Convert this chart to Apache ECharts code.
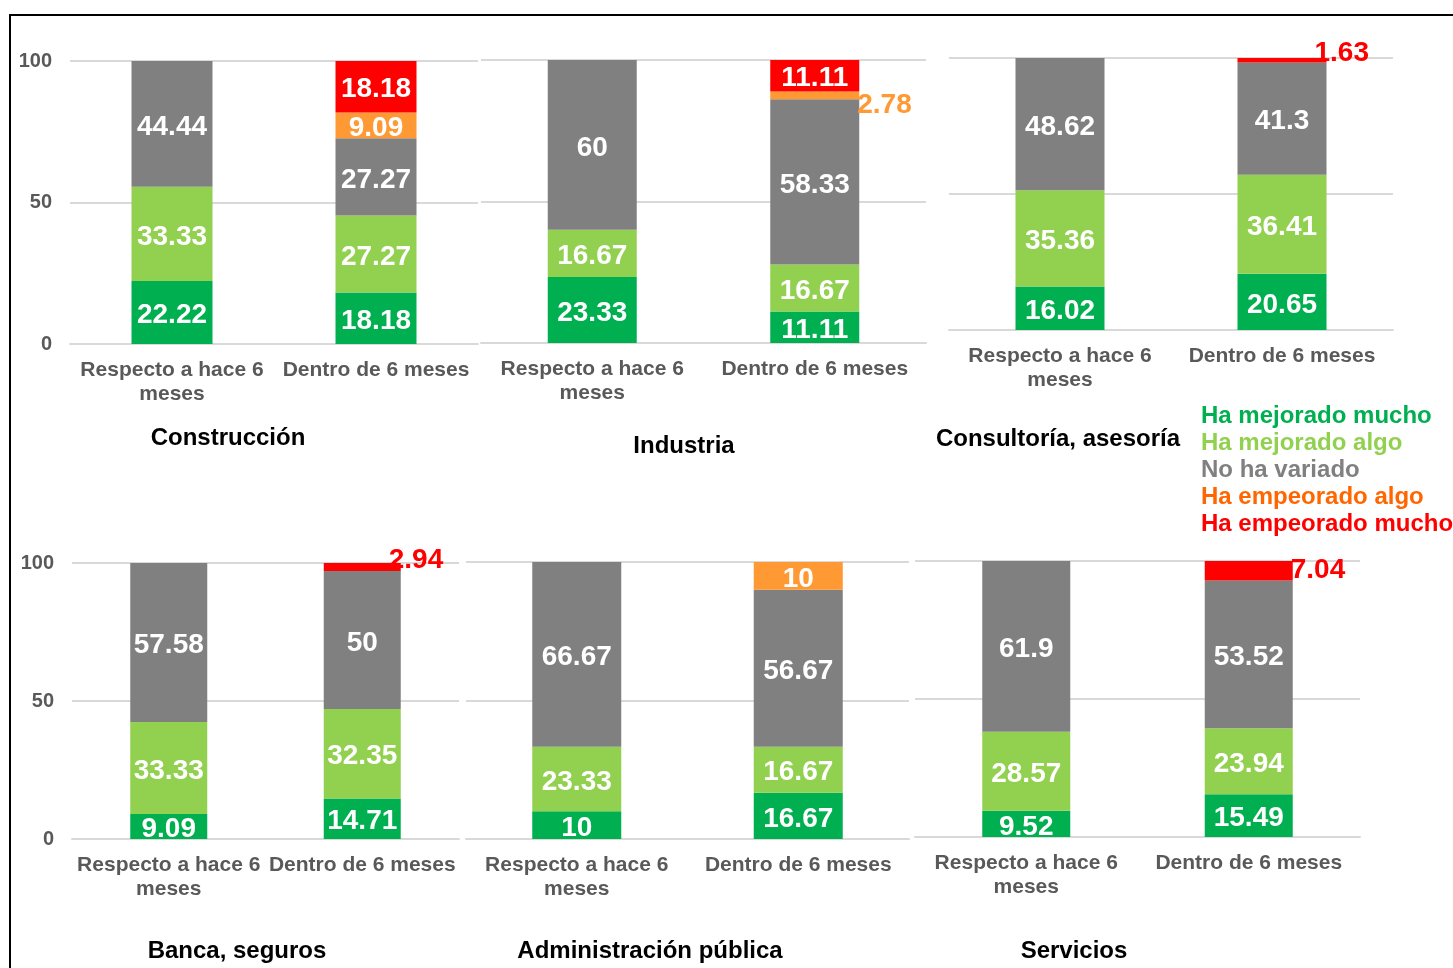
<!DOCTYPE html>
<html>
<head>
    <meta charset="utf-8">
    <title>Evolución por sector</title>
    <script src="https://cdn.jsdelivr.net/npm/echarts@6/dist/echarts.min.js"></script>
    <style>
        html, body { margin: 0; padding: 0; background: #fff; }
        #main { width: 1453px; height: 968px; }
    </style>
</head>
<body>
    <div id="main"></div>
    <script>
        // datos: [Respecto a hace 6 meses, Dentro de 6 meses] por sector
        var categories = ['Respecto a hace 6\nmeses', 'Dentro de 6 meses'];
        var sectors = ['Construcción', 'Industria', 'Consultoría, asesoría', 'Banca, seguros', 'Administración pública', 'Servicios'];
        var levels = ['Ha mejorado mucho', 'Ha mejorado algo', 'No ha variado', 'Ha empeorado algo', 'Ha empeorado mucho'];
        var yTicks = [0, 50, 100];

        var mejoradoMucho = [[22.22, 18.18], [23.33, 11.11], [16.02, 20.65], [9.09, 14.71], [10, 16.67], [9.52, 15.49]];
        var mejoradoAlgo = [[33.33, 27.27], [16.67, 16.67], [35.36, 36.41], [33.33, 32.35], [23.33, 16.67], [28.57, 23.94]];
        var noVariado = [[44.44, 27.27], [60, 58.33], [48.62, 41.3], [57.58, 50], [66.67, 56.67], [61.9, 53.52]];
        var empeoradoAlgo = [[null, 9.09], [null, 2.78], [null, null], [null, null], [null, 10], [null, null]];
        var empeoradoMucho = [[null, 18.18], [null, 11.11], [null, 1.63], [null, 2.94], [null, null], [null, 7.04]];
        var levelData = [mejoradoMucho, mejoradoAlgo, noVariado, empeoradoAlgo, empeoradoMucho];

        var barColors = ['#00B050', '#92D050', '#808080', '#FF9933', '#FF0000'];
        var legendColors = ['#00B050', '#92D050', '#808080', '#FF6600', '#FF0000'];

        // posición de cada panel (px)
        var panels = [
            { left: 70, top: 61, width: 408, height: 283, bar: 81, yLabels: true, tx: 228, ty: 438 },
            { left: 481, top: 60, width: 445, height: 283, bar: 89, yLabels: false, tx: 684, ty: 446 },
            { left: 949, top: 58, width: 444, height: 272, bar: 89, yLabels: false, tx: 1058, ty: 439 },
            { left: 72, top: 563, width: 387, height: 276, bar: 77, yLabels: true, tx: 237, ty: 951 },
            { left: 466, top: 562, width: 443, height: 277, bar: 89, yLabels: false, tx: 650, ty: 951 },
            { left: 915, top: 561, width: 445, height: 276, bar: 88, yLabels: false, tx: 1074, ty: 951 }
        ];

        var font = '"Liberation Sans", Arial, sans-serif';
        var chart = echarts.init(document.getElementById('main'));

        var grids = [], xAxes = [], yAxes = [], series = [], graphics = [];

        graphics.push({
            type: 'rect',
            shape: { x: 10, y: 15, width: 1500, height: 1000 },
            style: { fill: 'none', stroke: '#000', lineWidth: 2 },
            silent: true
        });

        panels.forEach(function (p, i) {
            grids.push({ left: p.left, top: p.top, width: p.width, height: p.height });
            xAxes.push({
                type: 'category',
                gridIndex: i,
                data: categories,
                axisTick: { show: false },
                axisLine: { lineStyle: { color: '#D9D9D9', width: 2 } },
                axisLabel: {
                    color: '#595959', fontWeight: 'bold', fontSize: 21, fontFamily: font,
                    lineHeight: 24, margin: 14, interval: 0
                }
            });
            yAxes.push({
                type: 'value',
                gridIndex: i,
                min: yTicks[0],
                max: yTicks[yTicks.length - 1],
                interval: 50,
                axisLine: { show: false },
                axisTick: { show: false },
                splitLine: { lineStyle: { color: '#D9D9D9', width: 2 } },
                axisLabel: {
                    show: p.yLabels, color: '#595959', fontWeight: 'bold', fontSize: 20,
                    fontFamily: font, margin: 18
                }
            });

            levels.forEach(function (name, k) {
                var vals = levelData[k][i];
                series.push({
                    name: name,
                    type: 'bar',
                    stack: 's' + i,
                    xAxisIndex: i,
                    yAxisIndex: i,
                    barWidth: p.bar,
                    itemStyle: { color: barColors[k] },
                    data: vals.map(function (v) {
                        if (v === null) return null;
                        var small = v < 8;
                        var label = {
                            show: true,
                            position: small ? 'right' : 'inside',
                            color: small ? barColors[k] : '#fff',
                            fontSize: 28,
                            fontWeight: 'bold',
                            fontFamily: font,
                            offset: [0, 3]
                        };
                        if (small) {
                            label.distance = -2;
                            label.offset = [0, 0];
                            if (k === 4 && v < 4) label.offset = [-10, -7];
                            if (k === 3) label.offset = [0, 10];
                        }
                        return { value: v, label: label };
                    })
                });
            });

            graphics.push({
                type: 'text',
                x: p.tx,
                y: p.ty,
                silent: true,
                style: {
                    text: sectors[i],
                    fill: '#000',
                    font: 'bold 24px ' + font,
                    align: 'center',
                    verticalAlign: 'middle',
                    textAlign: 'center',
                    textVerticalAlign: 'middle'
                }
            });
        });

        var option = {
            animation: false,
            backgroundColor: '#fff',
            grid: grids,
            xAxis: xAxes,
            yAxis: yAxes,
            legend: {
                orient: 'vertical',
                left: 1191,
                top: 399,
                itemWidth: 0,
                itemHeight: 0,
                itemGap: 3,
                selectedMode: false,
                data: levels.map(function (n, k) {
                    return {
                        name: n,
                        textStyle: { color: legendColors[k], fontSize: 24, fontWeight: 'bold', fontFamily: font }
                    };
                })
            },
            graphic: graphics,
            series: series
        };

        option && chart.setOption(option);
    </script>
</body>
</html>
